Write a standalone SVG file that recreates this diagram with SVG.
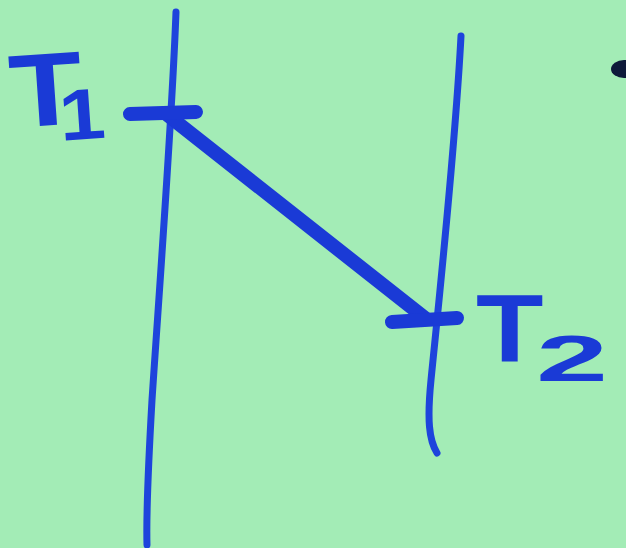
<svg xmlns="http://www.w3.org/2000/svg" width="626" height="548" viewBox="0 0 626 548">
<style>
.axis{fill:none;stroke:#1e44dc;stroke-width:7;stroke-linecap:round}
.thick{fill:none;stroke:#1a3ad6;stroke-width:14;stroke-linecap:round}
.lbl{font-family:"Liberation Sans",Arial,sans-serif;font-weight:bold;fill:#1a3ad6}
</style>
<rect width="626" height="548" fill="#a3ecb6"/>
<g id="connectors">
<path class="axis" d="M176 12 C172 120 160 280 152 400 C148 470 146 510 147 545"/>
<path class="axis" d="M461 36 C455 150 440 290 431 380 C427 420 429 440 437 453"/>
<path class="thick" d="M165 113 L425 318"/>
</g>
<g id="T1">
<path class="thick" d="M130 114 L196 112"/>
<text class="lbl" x="0" y="0" font-size="104" transform="translate(12 128) rotate(-4) scale(1.15 1)">T<tspan font-size="72" dx="-22" dy="16">1</tspan></text>
</g>
<g id="T2">
<path class="thick" d="M392 322 L457 318"/>
<text class="lbl" x="0" y="0" font-size="96" transform="translate(476 362) scale(1.15 1)">T</text>
<text class="lbl" x="0" y="0" font-size="72" transform="translate(536 381) scale(1.8 0.9)">2</text>
</g>
<ellipse cx="624" cy="69" rx="13" ry="9" fill="#0e1a3a"/>
</svg>
